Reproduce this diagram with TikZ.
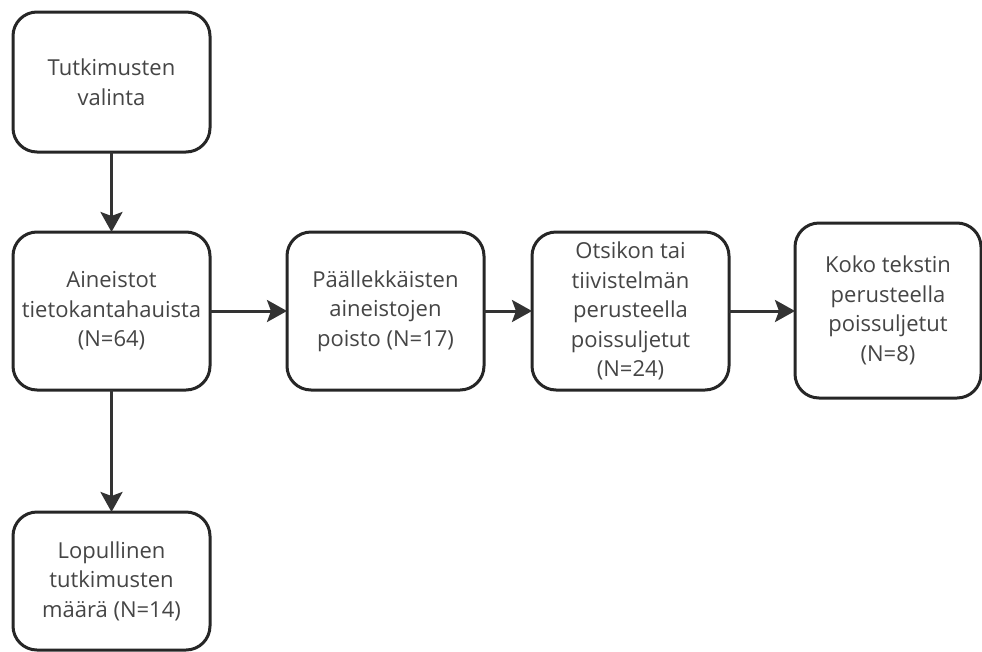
\documentclass[tikz,border=0pt]{standalone}
\usepackage{fontspec}
\setmainfont{Open Sans}
\usetikzlibrary{arrows.meta}
\definecolor{txt}{HTML}{454545}
\definecolor{edge}{HTML}{262626}
\definecolor{arr}{HTML}{333333}
\tikzset{
  box/.style={draw=edge, line width=3pt, rounded corners=24pt, fill=white,
    align=center, text=txt, inner sep=0pt, outer sep=0pt,
    font=\fontsize{22}{29.5}\selectfont},
  conn/.style={draw=arr, line width=3pt, -{Stealth[length=20pt,width=22pt,inset=4pt]}}
}
\begin{document}
\begin{tikzpicture}[x=1pt,y=-1pt]
\useasboundingbox (0,0) rectangle (982,651);
\node[box, minimum width=197pt, minimum height=140pt] (b1) at (111.5,82) {Tutkimusten\\valinta};
\node[box, minimum width=197pt, minimum height=158pt] (b2) at (111.5,311) {Aineistot\\tietokantahauista\\(N=64)};
\node[box, minimum width=197pt, minimum height=158pt] (b3) at (385.5,311) {Päällekkäisten\\aineistojen\\poisto (N=17)};
\node[box, minimum width=197pt, minimum height=158pt] (b4) at (630.5,311) {Otsikon tai\\tiivistelmän\\perusteella\\poissuljetut\\(N=24)};
\node[box, minimum width=186pt, minimum height=175pt] (b5) at (888,310.5) {Koko tekstin\\perusteella\\poissuljetut\\(N=8)};
\node[box, minimum width=197pt, minimum height=138pt] (b6) at (111.5,581) {Lopullinen\\tutkimusten\\määrä (N=14)};
\draw[conn] (b1.south) -- (b2.north);
\draw[conn] (b2.south) -- (b6.north);
\draw[conn] (b2.east) -- (b3.west);
\draw[conn] (b3.east) -- (b4.west);
\draw[conn] (b4.east) -- (b5.west |- b4.east);
\end{tikzpicture}
\end{document}
